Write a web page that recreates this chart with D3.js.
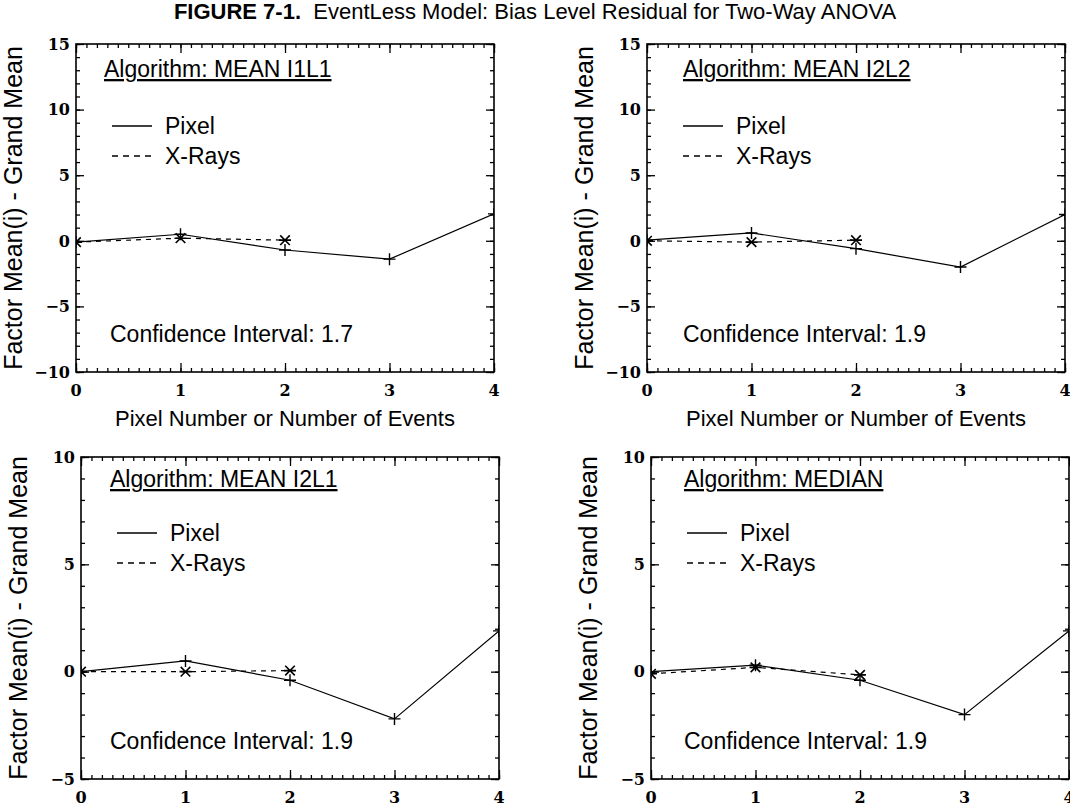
<!DOCTYPE html>
<html>
<head>
<meta charset="utf-8">
<script src="https://cdn.jsdelivr.net/npm/d3@7"></script>
<style>
  body { margin: 0; background: #fff; }
  svg { display: block; }
</style>
</head>
<body>
<div id="fig"></div>
<script>
// ---- data ----
const xValues = [0, 1, 2, 3, 4];
const xTicks = [0, 1, 2, 3, 4];

const algorithms = ["MEAN I1L1", "MEAN I2L2", "MEAN I2L1", "MEDIAN"];
const confidence = ["1.7", "1.9", "1.9", "1.9"];

const pixelI1L1 = [-0.1, 0.5, -0.7, -1.4, 2.05];
const xraysI1L1 = [-0.1, 0.2, 0.05];
const pixelI2L2 = [0.05, 0.6, -0.6, -2.0, 2.0];
const xraysI2L2 = [0.0, -0.1, 0.05];
const pixelI2L1 = [0.0, 0.5, -0.4, -2.2, 1.9];
const xraysI2L1 = [0.0, 0.0, 0.05];
const pixelMedian = [0.0, 0.3, -0.4, -2.0, 1.9];
const xraysMedian = [-0.1, 0.2, -0.15];

const yTicksTop = [-10, -5, 0, 5, 10, 15];
const yTicksBottom = [-5, 0, 5, 10];

const width = 1070, height = 808;

const svg = d3.select("#fig").append("svg")
    .attr("width", width)
    .attr("height", height)
    .style("font-family", "'Liberation Sans', Arial, sans-serif");

// title
const title = svg.append("text")
    .attr("x", width / 2)
    .attr("y", 19)
    .attr("text-anchor", "middle")
    .attr("font-size", 22);
title.append("tspan").attr("font-weight", "bold").text("FIGURE 7-1.");
title.append("tspan").text("\u00a0 EventLess Model: Bias Level Residual for Two-Way ANOVA");

const panels = [
  {left: 76, top: 44, w: 418, h: 328, yDomain: [-10, 15], yTicks: yTicksTop,
   pixel: pixelI1L1, xrays: xraysI1L1, xTitle: true, algoX: 28, algoY: 33, legY: 82, ciX: 34},
  {left: 647, top: 44, w: 418, h: 328, yDomain: [-10, 15], yTicks: yTicksTop,
   pixel: pixelI2L2, xrays: xraysI2L2, xTitle: true, algoX: 36, algoY: 33, legY: 82, ciX: 36},
  {left: 81, top: 457, w: 418, h: 322, yDomain: [-5, 10], yTicks: yTicksBottom,
   pixel: pixelI2L1, xrays: xraysI2L1, xTitle: false, algoX: 29, algoY: 30, legY: 76, ciX: 29},
  {left: 651, top: 457, w: 418, h: 322, yDomain: [-5, 10], yTicks: yTicksBottom,
   pixel: pixelMedian, xrays: xraysMedian, xTitle: false, algoX: 33, algoY: 30, legY: 76, ciX: 33}
];

const labelFont = "'DejaVu Serif', serif";

panels.forEach(function(p, i) {
    const x = d3.scaleLinear().domain([0, 4]).range([0, p.w]);
    const y = d3.scaleLinear().domain(p.yDomain).range([p.h, 0]);

    const g = svg.append("g").attr("transform", `translate(${p.left},${p.top})`);

    g.append("clipPath").attr("id", "clip" + i)
      .append("rect").attr("width", p.w).attr("height", p.h);

    const yMinor = d3.range(p.yDomain[0], p.yDomain[1] + 1, 1);
    const xMinor = d3.range(0, 41, 1).map(d => d / 10);

    // inward ticks on all four sides
    function tickAxis(axisFn, scale, values, size, transform) {
        const a = g.append("g")
            .attr("transform", transform)
            .call(axisFn(scale).tickValues(values).tickSize(size).tickFormat(""));
        a.select(".domain").remove();
        a.selectAll("line").attr("stroke", "#000").attr("stroke-width", 1.3);
    }
    tickAxis(d3.axisLeft, y, yMinor, -4, "translate(0,0)");
    tickAxis(d3.axisLeft, y, p.yTicks, -8, "translate(0,0)");
    tickAxis(d3.axisRight, y, yMinor, -4, `translate(${p.w},0)`);
    tickAxis(d3.axisRight, y, p.yTicks, -8, `translate(${p.w},0)`);
    tickAxis(d3.axisBottom, x, xMinor, -4, `translate(0,${p.h})`);
    tickAxis(d3.axisBottom, x, xTicks, -9, `translate(0,${p.h})`);
    tickAxis(d3.axisTop, x, xMinor, -4, "translate(0,0)");
    tickAxis(d3.axisTop, x, xTicks, -9, "translate(0,0)");

    g.append("rect")
        .attr("width", p.w).attr("height", p.h)
        .attr("fill", "none").attr("stroke", "#000").attr("stroke-width", 1.6);

    // tick labels
    g.selectAll(".ylab").data(p.yTicks).join("text")
        .attr("x", -6)
        .attr("y", d => y(d))
        .attr("dy", "0.36em")
        .attr("text-anchor", "end")
        .attr("font-family", labelFont)
        .attr("font-weight", "bold")
        .attr("font-size", 16)
        .text(d => d < 0 ? "\u2212" + Math.abs(d) : d);

    g.selectAll(".xlab").data(xTicks).join("text")
        .attr("x", d => x(d))
        .attr("y", p.h + 24)
        .attr("text-anchor", "middle")
        .attr("font-family", labelFont)
        .attr("font-weight", "bold")
        .attr("font-size", 16)
        .text(d => d);

    // axis titles
    g.append("text")
        .attr("transform", `translate(${-54},${p.h / 2}) rotate(-90)`)
        .attr("text-anchor", "middle")
        .attr("font-size", 25)
        .text("Factor Mean(i) - Grand Mean");

    if (p.xTitle) {
        g.append("text")
            .attr("x", p.w / 2)
            .attr("y", p.h + 54)
            .attr("text-anchor", "middle")
            .attr("font-size", 22)
            .text("Pixel Number or Number of Events");
    }

    // annotations
    g.append("text")
        .attr("x", p.algoX).attr("y", p.algoY)
        .attr("font-size", 23)
        .attr("text-decoration", "underline")
        .text("Algorithm: " + algorithms[i]);

    g.append("line")
        .attr("x1", 36).attr("x2", 76).attr("y1", p.legY).attr("y2", p.legY)
        .attr("stroke", "#000").attr("stroke-width", 1.6);
    g.append("text").attr("x", 89).attr("y", p.legY + 8).attr("font-size", 23).text("Pixel");

    g.append("line")
        .attr("x1", 36).attr("x2", 76).attr("y1", p.legY + 30).attr("y2", p.legY + 30)
        .attr("stroke", "#000").attr("stroke-width", 1.6)
        .attr("stroke-dasharray", "6,5");
    g.append("text").attr("x", 89).attr("y", p.legY + 38).attr("font-size", 23).text("X-Rays");

    g.append("text")
        .attr("x", p.ciX).attr("y", p.h - 30)
        .attr("font-size", 23)
        .text("Confidence Interval: " + confidence[i]);

    // series
    const plot = g.append("g").attr("clip-path", `url(#clip${i})`);
    const line = d3.line().x((d, k) => x(xValues[k])).y(d => y(d));

    plot.append("path")
        .attr("d", line(p.pixel))
        .attr("fill", "none").attr("stroke", "#000").attr("stroke-width", 1.2);
    plot.append("path")
        .attr("d", line(p.xrays))
        .attr("fill", "none").attr("stroke", "#000").attr("stroke-width", 1.2)
        .attr("stroke-dasharray", "5,5");

    const s = 6;
    plot.selectAll(".plus").data(p.pixel).join("path")
        .attr("d", (d, k) => {
            const cx = x(xValues[k]), cy = y(d);
            return `M${cx - s},${cy}H${cx + s}M${cx},${cy - s}V${cy + s}`;
        })
        .attr("stroke", "#000").attr("stroke-width", 1.4);

    plot.selectAll(".star").data(p.xrays).join("path")
        .attr("d", (d, k) => {
            const cx = x(xValues[k]), cy = y(d), a = s * 0.8;
            return `M${cx - s},${cy}H${cx + s}M${cx - a},${cy - a}L${cx + a},${cy + a}` +
                   `M${cx - a},${cy + a}L${cx + a},${cy - a}`;
        })
        .attr("stroke", "#000").attr("stroke-width", 1.6);
});
</script>
</body>
</html>
